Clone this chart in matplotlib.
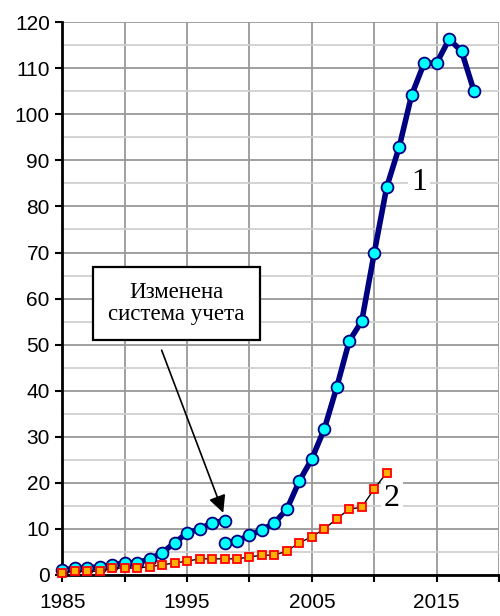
import matplotlib.pyplot as plt
import numpy as np

# Series 1 (old accounting system, then new one)
years_1a = [1985, 1986, 1987, 1988, 1989, 1990, 1991, 1992, 1993, 1994, 1995, 1996, 1997, 1998]
values_1a = [1.0, 1.5, 1.5, 1.8, 2.2, 2.6, 2.6, 3.5, 4.8, 7.0, 9.1, 10.0, 11.3, 11.8]
years_1b = [1998, 1999, 2000, 2001, 2002, 2003, 2004, 2005, 2006, 2007, 2008, 2009,
            2010, 2011, 2012, 2013, 2014, 2015, 2016, 2017, 2018]
values_1b = [7.0, 7.4, 8.6, 9.8, 11.3, 14.3, 20.4, 25.2, 31.7, 40.8, 50.8, 55.1,
             69.9, 84.2, 92.9, 104.2, 111.1, 111.1, 116.3, 113.7, 105.0]

# Series 2
years_2 = list(range(1985, 2012))
values_2 = [0.4, 0.8, 0.8, 0.8, 1.5, 1.5, 1.5, 1.8, 2.2, 2.6, 3.0, 3.5, 3.5, 3.5,
            3.5, 3.9, 4.3, 4.3, 5.2, 7.0, 8.3, 10.0, 12.2, 14.3, 14.7, 18.7, 22.2]

x_ticks = list(range(1985, 2021, 5))
x_tick_labels = [str(y) if (y - 1985) % 10 == 0 else '' for y in x_ticks]
y_ticks = list(range(0, 121, 10))

# Logistics for the plt
fig = plt.figure(figsize=(5, 6.16), dpi=100)
ax = fig.add_axes([0.1246, 0.0666, 0.8734, 0.8974])
ax.set_xlim(1985, 2020)
ax.set_ylim(0, 120)

# Grid
ax.set_yticks(y_ticks)
ax.set_yticks(list(range(5, 120, 10)), minor=True)
ax.set_xticks(x_ticks)
ax.set_xticklabels(x_tick_labels)
ax.grid(True, which='major', color='#999999', linewidth=1.3)
ax.grid(True, which='minor', axis='y', color='#d0d0d0', linewidth=1.3)
ax.set_axisbelow(True)
ax.tick_params(which='minor', length=0)
ax.tick_params(which='major', direction='out', length=5, width=1.5,
               labelsize=15, pad=4)
for lab in ax.get_xticklabels() + ax.get_yticklabels():
    lab.set_family('Liberation Sans')
ax.tick_params(axis='x', pad=8)

for side in ['top', 'right']:
    ax.spines[side].set_visible(False)
for side in ['left', 'bottom']:
    ax.spines[side].set_linewidth(2)
    ax.spines[side].set_color('black')

# Series 1
style_1 = dict(color='#000080', linewidth=4, marker='o', markersize=8.5,
               markerfacecolor='#00ffff', markeredgecolor='#000080',
               markeredgewidth=1.3, clip_on=False, zorder=3)
ax.plot(years_1a, values_1a, **style_1)
ax.plot(years_1b, values_1b, **style_1)

# Series 2
ax.plot(years_2, values_2, color='black', linewidth=1, marker='s', markersize=5.5,
        markerfacecolor='#ffb000', markeredgecolor='#ff0000', markeredgewidth=1.3,
        clip_on=False, zorder=4)

# Curve labels
label_box = dict(facecolor='white', edgecolor='none', pad=2)
ax.text(2013.6, 85.1, '1', family='Liberation Serif', fontsize=23,
        ha='center', va='center', bbox=label_box, zorder=5)
ax.text(2011.4, 16.5, '2', family='Liberation Serif', fontsize=23,
        ha='center', va='center', bbox=label_box, zorder=5)

# Note and arrow
ax.text(1994.15, 58.9, 'Изменена\nсистема учета', family='Liberation Serif',
        fontsize=16.5, ha='center', va='center', linespacing=1.05,
        bbox=dict(facecolor='white', edgecolor='black', linewidth=1.6,
                  boxstyle='square,pad=0.65'), zorder=6)
ax.annotate('', xy=(1997.9, 13.5), xytext=(1992.96, 48.8),
            arrowprops=dict(arrowstyle='-|>', color='black', linewidth=1.2,
                            mutation_scale=26, shrinkA=0, shrinkB=0), zorder=6)

plt.savefig('out.png', dpi=100)
